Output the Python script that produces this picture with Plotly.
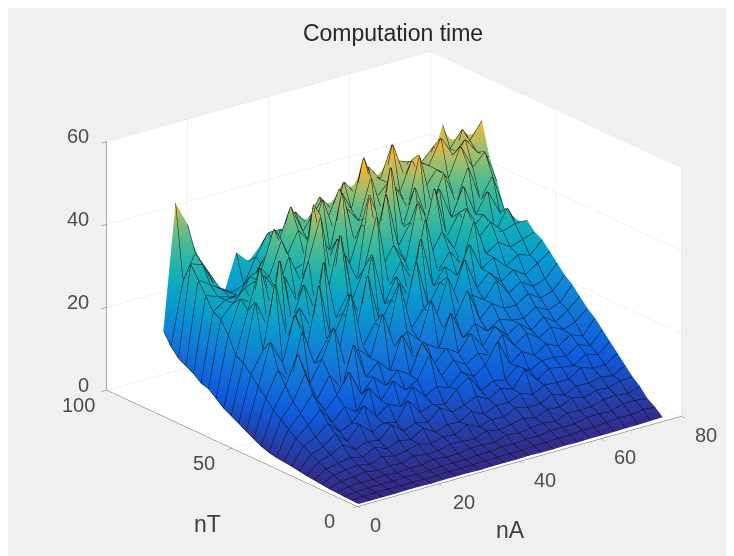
import plotly.graph_objects as go

nA = list(range(1, 77, 3))
nT = list(range(1, 80, 3))

T01 = [.1,.1,.1,.1,.2,.2,.1,.2,.2,.2,.1,.2,.2,.2,.3,.2,.2,.3,.2,.3,.3,.3,.4,.4,.5,.6]
T04 = [.1,.3,.3,.4,.3,.4,.3,.4,.5,.5,.5,.7,.7,.8,.7,1,1,1.2,1.2,1.5,1.5,1.8,2,2,2.4,2.2]
T07 = [.2,.5,.6,.7,.6,.8,.6,.8,1,.9,.9,1.2,1.2,1.6,1.4,1.8,1.7,2.2,2.2,2.2,2.9,3,2.9,3.8,3.8,3.4]
T10 = [.3,.9,1.1,1,1.3,1,1.3,1.2,1.8,1.5,1.5,2,2,1.8,2.8,2.4,2.8,3.2,2.8,4,3.8,3.9,4.8,5,4.6,5.5]
T13 = [.4,1.3,1.6,2,1.5,1.9,1.6,2.6,2.1,2.2,3,2.8,2.6,3.8,3.1,3.7,4.3,3.6,4.8,4.6,6,5.2,6.2,6,6.8,7]
T16 = [.6,2,2.4,2.8,2.1,3.3,2.5,3,3.8,3,4,3.6,5.2,3.9,4.8,4.6,6,5.2,5.4,6.8,5.8,7.2,7,7.8,7.2,9]
T19 = [.8,2.6,3.2,3.8,3,4.6,3.5,4.6,4,6,4.2,5.2,5,6.8,5.2,6.6,6.4,7.8,6.8,8.2,8,8,10,9,9,11]
T22 = [1,3.5,4.4,6,4,5.2,4.6,7.6,5.2,6.4,5.8,8.4,6.6,7.4,8.8,7.2,9,8,12,8.6,10.6,10,9.6,11.6,10.6,13]
T25 = [1.3,4.5,5.5,7.8,5.2,8.5,5.8,7.2,6.4,11,7.2,8.4,7.6,10.4,12.6,8.4,10,9.4,12,10,11.6,11.6,11,13,12,15]
T28 = [1.6,5.6,7,9.5,6.6,8,11.4,7.8,10,8.6,12.6,9.6,11,10,13,11,13,18,11.6,13.8,12,14,12.6,14.6,13.4,17]
T31 = [1.8,6.6,9,12,8,11,9,14,10,14,11,12.6,18,12,15,13,15,13.6,18,14.4,16.6,14.6,16.4,15,16,18.5]
T34 = [2,8,11,15,10,13,18,11.4,15,12,15,13,20,14,17,15,19,15,19,16,18,15.6,18,16,18,20.5]
T37 = [2.4,9.5,13,19,12,17,13,23,14,17,14,22,15,18,16,24,17,19.6,17,19,18,17.6,19.6,18,19,22.5]
T40 = [3,11,16,23,15,20,27,16,20,17,27,18,21,18,27,19,21,27,19,22,20,20,22,20,21,24]
T43 = [4,13,19,15,27,18,23,19,33,19,24,19,32,20,24,21,30,22,24,22,26,22,24,22,23,26]
T46 = [5,15,25,19,30,21,36,21,27,21,35,22,27,22,35,23,28,24,32,24,27,24,26,24,26,28]
T49 = [6,17,22,38,23,30,24,40,25,30,24,38,25,31,25,39,26,30,27,34,27,29,26,28,27,30]
T52 = [7,19,33,26,42,26,34,26,31,44,27,34,46,28,33,27,42,28,32,28,38,29,31,29,30,31]
T55 = [8,20,30,40,28,36,29,38,48,30,37,30,50,31,36,31,45,31,36,31,40,32,35,32,33,33]
T58 = [9.5,24,32,30,36,31,39,32,50,34,40,33,42,35,48,34,39,34,46,33,38,33,36,31,36,30]
T61 = [11,27,30,33,34,34,42,34,35,42,36,50,37,42,37,53,37,46,37,44,36,43,35,40,34,29]
T64 = [11.5,28,30,30,34,35,44,36,42,38,48,39,44,40,50,40,46,40,52,39,46,38,46,37,42,33]
T67 = [13,31,30,29,29,32,37,39,47,40,44,41,48,42,54,43,46,43,50,42,46,43,50,44,47,39]
T70 = [14,34,32,30,28,28,33,36,40,44,40,46,42,48,44,50,46,54,45,48,46,52,47,50,46,44]
T73 = [15,37,36,30,27,25,28,31,36,36,38,41,37,40,43,42,46,44,48,47,46,49,46,46,48,52]
T76 = [17,32,38,33,28,26,27,33,38,38,37,36,38,40,39,42,40,41,43,44,42,43,45,46,50,44]
T79 = [20,50,44,31,26,25,34,31,34,31,32,36,36,36,36,38,38,44,39,41,43,42,42,51,42,36]

rows = [T01,T04,T07,T10,T13,T16,T19,T22,T25,T28,T31,T34,T37,T40,T43,T46,T49,T52,T55,T58,T61,T64,T67,T70,T73,T76,T79]

z_ticks = [0, 20, 40, 60]
nT_ticks = [0, 50, 100]
nA_ticks = [0, 20, 40, 60, 80]

parula = [[0.0,"#352a87"],[0.18,"#0f5cdd"],[0.33,"#127dd8"],[0.45,"#079ccf"],
          [0.57,"#15b1b4"],[0.7,"#59bd8c"],[0.783,"#a5be6b"],[0.867,"#fdb42f"],[1.0,"#f9fb0e"]]

line = dict(show=True, color="#0d0d0d", width=3, highlight=False)
fig = go.Figure(go.Surface(
    x=nA, y=nT, z=rows, colorscale=parula, cmin=0, cmax=60, showscale=False,
    hoverinfo="skip",
    lighting=dict(ambient=1, diffuse=0, specular=0, roughness=1, fresnel=0),
    contours=dict(
        x=dict(line, start=1, end=76, size=3),
        y=dict(line, start=1, end=79, size=3),
        z=dict(highlight=False),
    ),
))

axis = dict(showbackground=True, backgroundcolor="white", gridcolor="#e4e4e4", gridwidth=1,
            showline=True, linecolor="#606060", linewidth=1, ticks="outside", ticklen=6,
            tickcolor="#606060", zeroline=False, showspikes=False, showticklabels=False)

lab = dict(family="Liberation Sans", size=23, color="#404040")
tick = dict(family="Liberation Sans", size=20, color="#4d4d4d")

ann = []
for v in z_ticks:
    ann.append(dict(x=0, y=100, z=v, text=str(v), showarrow=False, font=tick, xanchor="right",
                    xshift=-16, yshift=5))
for v in nT_ticks:
    ann.append(dict(x=0, y=v, z=0, text=str(v), showarrow=False, font=tick, xshift=-28, yshift=-15))
for v in nA_ticks:
    ann.append(dict(x=v, y=0, z=0, text=str(v), showarrow=False, font=tick,
                    xshift=18 if v == 0 else 25, yshift=-19))

fig.update_layout(
    width=734, height=556, margin=dict(l=0, r=0, t=0, b=0), paper_bgcolor="#f0f0f0",
    showlegend=False,
    title=dict(text="Computation time", x=385/734, xanchor="center", y=1-25/556, yanchor="middle",
               font=dict(family="Liberation Sans", size=23, color="#262626")),
    annotations=[
        dict(text="nT", x=199/734, y=1-516/556, xref="paper", yref="paper", showarrow=False,
             xanchor="center", yanchor="middle", font=lab),
        dict(text="nA", x=502/734, y=1-522/556, xref="paper", yref="paper", showarrow=False,
             xanchor="center", yanchor="middle", font=lab),
    ],
    scene=dict(
        domain=dict(x=[0.056, 0.996], y=[0.0535, 0.9735]),
        camera=dict(projection=dict(type="orthographic"),
                    eye=dict(x=-0.62, y=-0.80, z=0.39),
                    center=dict(x=0, y=0, z=0), up=dict(x=0, y=0, z=1)),
        aspectmode="manual", aspectratio=dict(x=1.6, y=1.6, z=1.04),
        xaxis=dict(axis, range=[0, 80], tickvals=nA_ticks, title=dict(text="")),
        yaxis=dict(axis, range=[0, 100], tickvals=nT_ticks, title=dict(text="")),
        zaxis=dict(axis, range=[0, 60], tickvals=z_ticks, title=dict(text="")),
        annotations=ann,
    ),
)
fig.write_html("out.html")
